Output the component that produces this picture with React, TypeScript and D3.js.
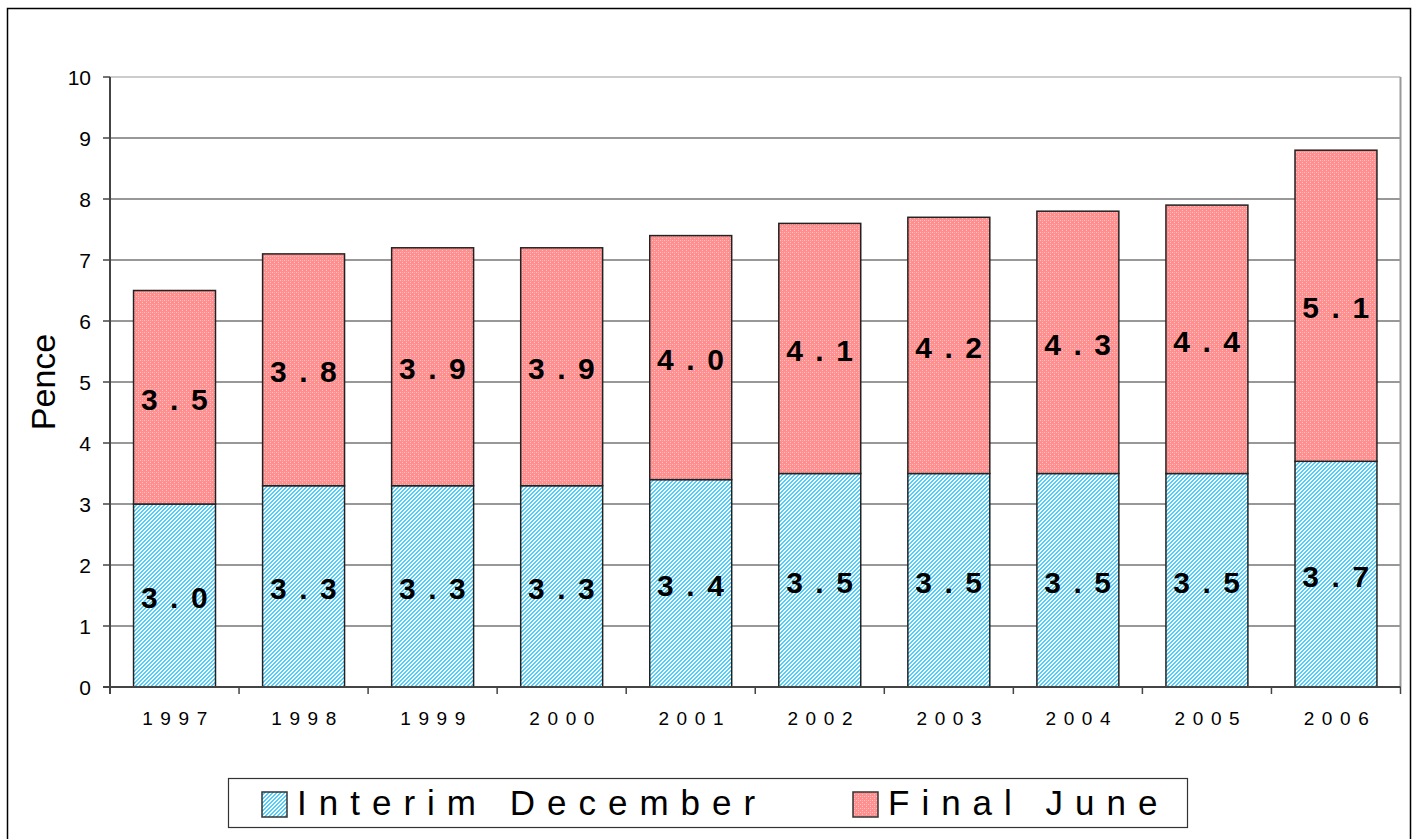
import React from "react";
import * as d3 from "d3";

// chart values
const years = ["1997", "1998", "1999", "2000", "2001", "2002", "2003", "2004", "2005", "2006"];
const interimDecember = [3.0, 3.3, 3.3, 3.3, 3.4, 3.5, 3.5, 3.5, 3.5, 3.7];
const finalJune = [3.5, 3.8, 3.9, 3.9, 4.0, 4.1, 4.2, 4.3, 4.4, 5.1];
const yTicks = [0, 1, 2, 3, 4, 5, 6, 7, 8, 9, 10];
const seriesNames = ["Interim December", "Final June"];

const FONT = "'Liberation Sans', Arial, sans-serif";

const App = () => {
    // dimensions of the plot area
    const dims = { width: 1414, height: 839, left: 110, right: 1400.5, top: 77, bottom: 687 };

    const xScale = d3.scaleBand()
        .domain(years)
        .range([dims.left, dims.right])
        .paddingInner(0.365)
        .paddingOuter(0.1825);

    const yScale = d3.scaleLinear()
        .domain([0, 10])
        .range([dims.bottom, dims.top]);

    // stack the two series
    const table = years.map((y, i) => ({ year: y, interim: interimDecember[i], final: finalJune[i] }));
    const stacked = d3.stack<any>().keys(["interim", "final"])(table);
    // solid base colour + pattern overlay
    const baseFills = ["#a6ecff", "#ff8f8f"];
    const patFills = ["url(#cyanHatch)", "url(#pinkCheck)"];

    const boundaries = d3.range(years.length + 1).map(i => dims.left + i * xScale.step());

    return (
        <svg width={dims.width} height={dims.height}
             style={{ position: "absolute", left: 0, top: 0, background: "#fff" }}>
            <defs>
                <pattern id="cyanHatch" width={4} height={4} patternUnits="userSpaceOnUse">
                    {d3.range(16).filter(k => ((k % 4) + Math.floor(k / 4)) % 4 < 2).map(k => (
                        <rect key={k} x={k % 4} y={Math.floor(k / 4)} width={1} height={1}
                              fill="#4dd0ff" shapeRendering="crispEdges" />
                    ))}
                    {d3.range(16).filter(k => ((k % 4) + Math.floor(k / 4)) % 4 >= 2).map(k => (
                        <rect key={"w" + k} x={k % 4} y={Math.floor(k / 4)} width={1} height={1}
                              fill="#ffffff" shapeRendering="crispEdges" />
                    ))}
                </pattern>
                <pattern id="pinkCheck" width={4} height={4} patternUnits="userSpaceOnUse">
                    <rect x={0} y={0} width={1} height={1} fill="#ffc4c4" shapeRendering="crispEdges" />
                    <rect x={2} y={2} width={1} height={1} fill="#ffc4c4" shapeRendering="crispEdges" />
                    <rect x={2} y={0} width={1} height={1} fill="#ffb0b0" shapeRendering="crispEdges" />
                </pattern>
            </defs>

            {/* outer chart frame */}
            <rect x={7.5} y={8.5} width={1403} height={845} fill="none" stroke="#000" strokeWidth={1.5} />

            {/* gridlines */}
            {yTicks.map(t => (
                <line key={"g" + t} x1={dims.left} x2={dims.right} y1={yScale(t)} y2={yScale(t)}
                      stroke={t === 10 ? "#999" : "#333"} strokeWidth={1.2} />
            ))}
            {/* right border of plot area */}
            <line x1={dims.right} x2={dims.right} y1={dims.top} y2={dims.bottom} stroke="#999" strokeWidth={2} />

            {/* bars */}
            {stacked.map((layer, si) => (
                <g key={"s" + si}>
                    {layer.map((d, i) => (
                        <g key={i}>
                            <rect x={xScale(years[i])} y={yScale(d[1])}
                                  width={xScale.bandwidth()} height={yScale(d[0]) - yScale(d[1])}
                                  fill={baseFills[si]} />
                            <rect x={xScale(years[i])} y={yScale(d[1])}
                                  width={xScale.bandwidth()} height={yScale(d[0]) - yScale(d[1])}
                                  fill={patFills[si]} stroke="#222" strokeWidth={1.5} />
                        </g>
                    ))}
                </g>
            ))}

            {/* value labels */}
            {stacked.map((layer, si) => (
                <g key={"l" + si}>
                    {layer.map((d, i) => (
                        <text key={i}
                              x={(xScale(years[i]) as number) + xScale.bandwidth() / 2 + 6}
                              y={yScale((d[0] + d[1]) / 2) + 2}
                              textAnchor="middle" dominantBaseline="central"
                              fontFamily={FONT} fontWeight="bold" fontSize={30} letterSpacing={12.5}>
                            {(d[1] - d[0]).toFixed(1)}
                        </text>
                    ))}
                </g>
            ))}

            {/* y axis */}
            <line x1={dims.left} x2={dims.left} y1={dims.top} y2={dims.bottom + 7} stroke="#444" strokeWidth={2} />
            {yTicks.map(t => (
                <g key={"t" + t}>
                    <line x1={dims.left - 7} x2={dims.left} y1={yScale(t)} y2={yScale(t)} stroke="#444" strokeWidth={1.5} />
                    <text x={91} y={yScale(t)} textAnchor="end" dominantBaseline="central"
                          fontFamily={FONT} fontSize={21}>{t}</text>
                </g>
            ))}
            <text transform={`translate(55,382) rotate(-90)`} textAnchor="middle"
                  fontFamily={FONT} fontSize={34}>Pence</text>

            {/* x axis */}
            <line x1={dims.left - 7} x2={dims.right} y1={dims.bottom} y2={dims.bottom} stroke="#444" strokeWidth={2} />
            {boundaries.map((bx, i) => (
                <line key={"xt" + i} x1={bx} x2={bx} y1={dims.bottom} y2={dims.bottom + 7} stroke="#444" strokeWidth={1.5} />
            ))}
            {years.map(y => (
                <text key={y} x={(xScale(y) as number) + xScale.bandwidth() / 2 + 4} y={725}
                      textAnchor="middle" fontFamily={FONT} fontSize={19} letterSpacing={7.6}>{y}</text>
            ))}

            {/* legend */}
            <rect x={228.5} y={778.5} width={959} height={49} fill="#fff" stroke="#333" strokeWidth={1.2} />
            {seriesNames.map((name, i) => {
                const lx = i === 0 ? 262 : 853;
                return (
                    <g key={name}>
                        <rect x={lx} y={792} width={25} height={25} fill={baseFills[i]} />
                        <rect x={lx} y={792} width={25} height={25} fill={patFills[i]} stroke="#333" strokeWidth={1.5} />
                        <text x={lx + 35} y={815} fontFamily={FONT} fontSize={35} letterSpacing={12}>{name}</text>
                    </g>
                );
            })}
        </svg>
    );
};

export default App;
